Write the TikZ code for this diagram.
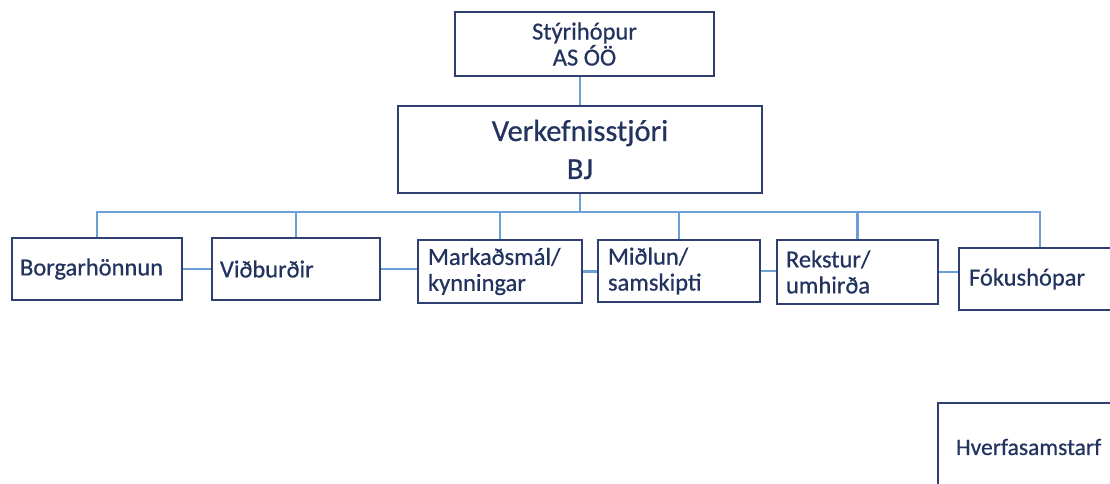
\documentclass[tikz,border=0pt]{standalone}
\usepackage{fontspec}
\setmainfont{Carlito}[FakeBold=0.6]
\definecolor{boxline}{HTML}{2E3F70}
\definecolor{txt}{HTML}{22335F}
\definecolor{conn}{HTML}{6C9FD4}
\tikzset{
  orgbox/.style={draw=boxline, line width=2pt, rectangle, text=txt, font=\fontsize{24.5}{26}\selectfont},
  leftbox/.style={orgbox, align=left, inner ysep=0pt},
  connline/.style={draw=conn, line width=2.2pt}
}
\begin{document}
\begin{tikzpicture}[x=1pt,y=-1pt]
\useasboundingbox (0,0) rectangle (1110,484);
\fill[white] (0,0) rectangle (1110,484);
% top boxes
\node[orgbox, align=center, minimum width=259pt, minimum height=64pt, inner sep=0pt, text depth=0pt] (styr) at (584.5,44) {Stýrihópur\\AS ÓÖ};
\node[orgbox, align=center, minimum width=364pt, minimum height=87pt, inner sep=0pt, font=\fontsize{30.5}{38}\selectfont] (verk) at (580,149.5) {Verkefnisstjóri\\BJ};
% second level
\node[leftbox, minimum width=170pt, minimum height=62pt, inner xsep=8pt, text width=154pt] (borg) at (97,269) {Borgarhönnun};
\node[leftbox, minimum width=168pt, minimum height=62pt, inner xsep=8pt, text width=152pt] (vid) at (296,269) {Viðburðir};
\node[leftbox, minimum width=164pt, minimum height=63pt, inner xsep=10pt, text width=144pt] (mark) at (500,271.5) {Markaðsmál/\\kynningar};
\node[leftbox, minimum width=162pt, minimum height=62pt, inner xsep=10pt, text width=142pt] (midl) at (679,271) {Miðlun/\\samskipti};
\node[leftbox, minimum width=161pt, minimum height=64pt, inner xsep=9pt, text width=143pt] (rek) at (857.5,272) {Rekstur/\\umhirða};
\node[leftbox, minimum width=162pt, minimum height=62pt, inner xsep=10pt, text width=142pt] (fok) at (1040,279) {Fókushópar};
\node[leftbox, minimum width=200pt, minimum height=88pt, inner xsep=18pt, text width=164pt, font=\fontsize{23.5}{26}\selectfont] (hverf) at (1038,447) {Hverfasamstarf};
% connectors
\draw[connline] (verk.north) -- (verk.north |- styr.south);
\draw[connline] (verk.south) -- ++(0,18) coordinate (busc);
\draw[connline] (borg.north) |- (busc) -| (fok.north);
\draw[connline] (vid.north) -- (vid.north |- busc);
\draw[connline] (mark.north) -- (mark.north |- busc);
\draw[connline] (midl.north) -- (midl.north |- busc);
\draw[connline] (rek.north) -- (rek.north |- busc);
\draw[connline] (borg.east) -- (borg.east -| vid.west);
\draw[connline] (vid.east) -- (vid.east -| mark.west);
\draw[connline] (mark.east) -- (mark.east -| midl.west);
\draw[connline] (midl.east) -- (midl.east -| rek.west);
\draw[connline] (rek.east) -- (rek.east -| fok.west);
\end{tikzpicture}
\end{document}
